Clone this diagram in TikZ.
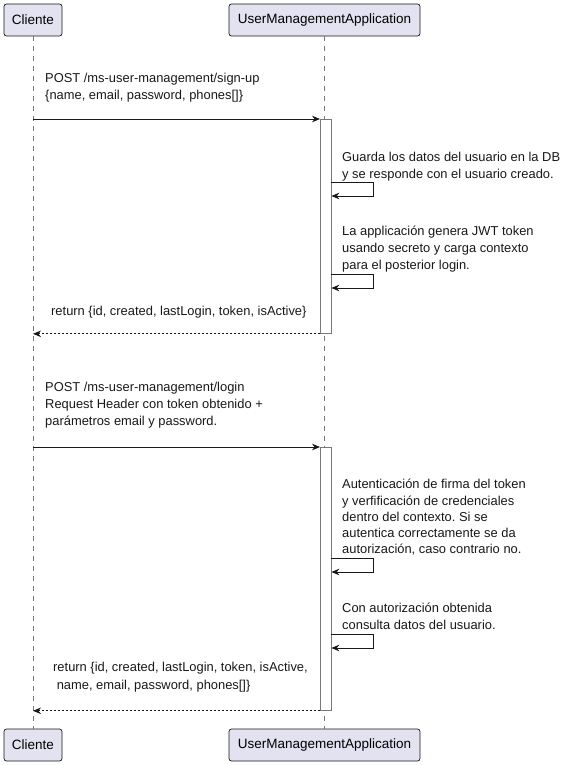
\documentclass[tikz,border=0pt]{standalone}
\usepackage{fontspec}
\setmainfont{Liberation Sans}
\usetikzlibrary{arrows.meta}
\frenchspacing

\definecolor{uml_box}{RGB}{226,226,240}  %#E2E2F0
\definecolor{uml_line}{RGB}{24,24,24}    %#181818
\definecolor{uml_gray}{RGB}{120,120,120} %#787878

\begin{document}
\begin{tikzpicture}[x=1pt,y=-1pt,
  actor/.style={draw=uml_line,fill=uml_box,rounded corners=2.5pt,line width=0.7pt,minimum height=32pt,inner sep=0pt,font=\fontsize{13.5}{16}\selectfont},
  life/.style={draw=uml_gray,dash pattern=on 5pt off 5pt,line width=0.7pt},
  actbar/.style={draw=uml_gray,fill=white,line width=0.8pt,minimum width=10.5pt,inner sep=0pt,anchor=north},
  msg/.style={draw=uml_line,line width=0.8pt,-{Stealth[length=8pt,width=6.5pt]}},
  ret/.style={draw=uml_line,line width=0.7pt,dash pattern=on 2pt off 2pt,-{Stealth[length=8pt,width=6.5pt]}},
  txt/.style={anchor=north west,align=left,inner sep=0pt,text=uml_line,font=\fontsize{12.9}{17}\selectfont}]

\useasboundingbox (0,0) rectangle (573,765);

% participants, top and bottom
\node[actor,minimum width=58pt]  (cli)  at (33,20)    {Cliente};
\node[actor,minimum width=191pt] (app)  at (324.5,20) {UserManagementApplication};
\node[actor,minimum width=58pt]  (cliB) at (33,745)   {Cliente};
\node[actor,minimum width=191pt] (appB) at (324.5,745) {UserManagementApplication};

% lifelines
\draw[life] (cli.south) -- (cliB.north);
\draw[life] (app.south) -- (appB.north);

% activations
\node[actbar,minimum height=214pt] (act1) at (325.7,119) {};
\node[actbar,minimum height=263pt] (act2) at (325.7,447) {};

% ------------------------------------------------ sign-up
\node[txt] (signup) at (45,72.5) {POST /ms-user-management/sign-up\\\{name, email, password, phones[]\}};
\draw[msg] (cli.south |- act1.north) -- (act1.north west);

\node[txt] (guarda) at (342,152) {Guarda los datos del usuario en la DB\\y se responde con el usuario creado.};
\draw[msg] (act1.east |- 0,182) -- ++(42,0) |- (act1.east |- 0,196);

\node[txt] (jwt) at (342,226) {La applicación genera JWT token\\usando secreto y carga contexto\\para el posterior login.};
\draw[msg] (act1.east |- 0,274) -- ++(42,0) |- (act1.east |- 0,288);

\node[txt] (ret1) at (51,306) {return \{id, created, lastLogin, token, isActive\}};
\draw[ret] (act1.south west) -- (cli.south |- act1.south);

% ------------------------------------------------ login
\node[txt] (login) at (45,382) {POST /ms-user-management/login\\Request Header con token obtenido +\\parámetros email y password.};
\draw[msg] (cli.south |- act2.north) -- (act2.north west);

\node[txt,font=\fontsize{12.9}{16.3}\selectfont] (firma) at (342,479) {Autenticación de firma del token\\y verfificación de credenciales\\dentro del contexto. Si se\\autentica correctamente se da\\autorización, caso contrario no.};
\draw[msg] (act2.east |- 0,558) -- ++(42,0) |- (act2.east |- 0,572);

\node[txt] (consulta) at (342,603) {Con autorización obtenida\\consulta datos del usuario.};
\draw[msg] (act2.east |- 0,634) -- ++(42,0) |- (act2.east |- 0,648);

\node[txt,font=\fontsize{12.9}{18}\selectfont] (ret2) at (53,662) {return \{id, created, lastLogin, token, isActive,\\\hspace*{3.6pt}name, email, password, phones[]\}};
\draw[ret] (act2.south west) -- (cli.south |- act2.south);

\end{tikzpicture}
\end{document}
